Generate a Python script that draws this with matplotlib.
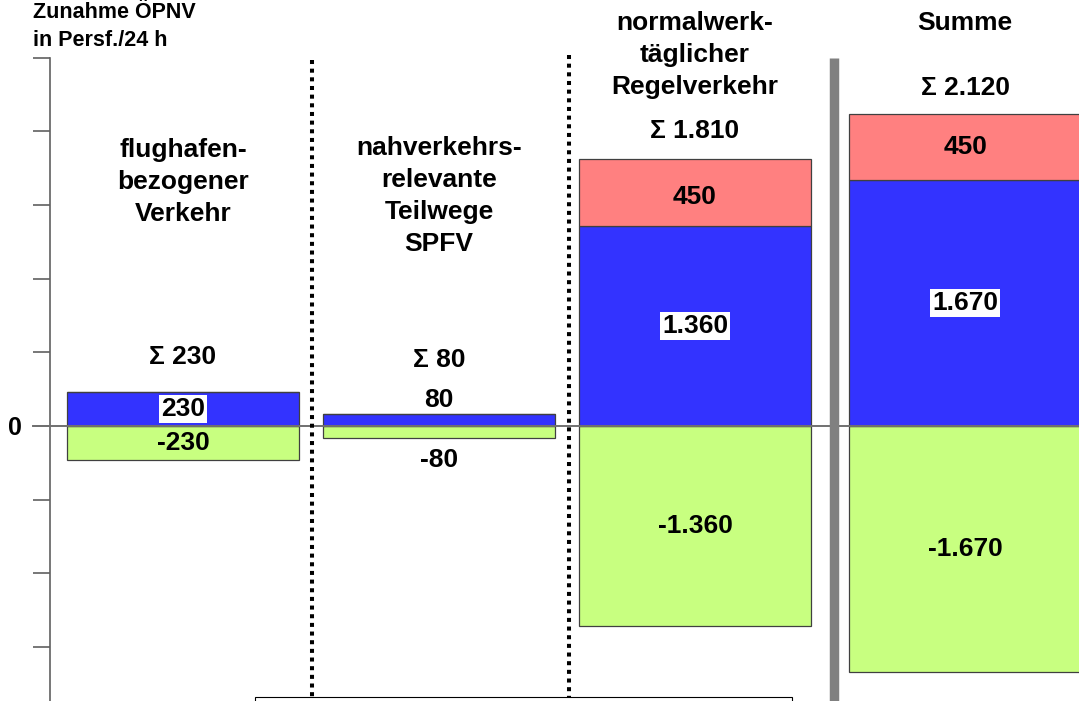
import matplotlib
matplotlib.use("Agg")
import matplotlib.pyplot as plt
import numpy as np
from matplotlib.patches import Rectangle

plt.rcParams['font.family'] = ['Liberation Sans', 'DejaVu Sans']
plt.rcParams['font.weight'] = 'bold'

# ---- data ----
groups = ["flughafen-\nbezogener\nVerkehr",
          "nahverkehrs-\nrelevante\nTeilwege\nSPFV",
          "normalwerk-\ntäglicher\nRegelverkehr",
          "Summe"]
blue_vals = [230, 80, 1360, 1670]
red_vals = [0, 0, 450, 450]
green_vals = [-230, -80, -1360, -1670]
blue_labels = ["230", "80", "1.360", "1.670"]
red_labels = ["", "", "450", "450"]
green_labels = ["-230", "-80", "-1.360", "-1.670"]
sum_labels = ["Σ 230", "Σ 80", "Σ 1.810", "Σ 2.120"]
yticks = [-1500, -1000, -500, 0, 500, 1000, 1500, 2000, 2500]
ylabel_lines = ["Zunahme ÖPNV", "in Persf./24 h"]

# ---- layout ----
W, H = 1079, 701
fig = plt.figure(figsize=(W / 100, H / 100), dpi=100)
ax_left, ax_top = 50, 57.5
ax = fig.add_axes([ax_left / W, 0, 1 - ax_left / W, 1 - ax_top / H])

zero_px = 426
px_per_unit = (647 - 57.5) / 4000.0
ymin = -(H - zero_px) / px_per_unit
ymax = 2500
ax.set_ylim(ymin, ymax)

step = 256.0
c0 = 183.0
x = np.array([0, 1, 2, 3.055])
width = 0.906
ax.set_xlim((ax_left - c0) / step, (W - c0) / step)

def py(v):
    """pixel row -> data value"""
    return (zero_px - v) / px_per_unit

blue = '#3333FF'
red = '#FF8080'
green = '#C8FF80'
edge = '#404040'

ax.bar(x, green_vals, width, color=green, edgecolor=edge, linewidth=0.9, zorder=2)
ax.bar(x, blue_vals, width, color=blue, edgecolor=edge, linewidth=0.9, zorder=2)
ax.bar(x, red_vals, width, bottom=blue_vals, color=red, edgecolor=edge, linewidth=0.9, zorder=2)

# zero line
ax.axhline(0, xmin=-17 / (W - ax_left), xmax=1, color='#707070', lw=1.4, zorder=3, clip_on=False)

# spines / ticks
for s in ['top', 'right', 'bottom']:
    ax.spines[s].set_visible(False)
ax.spines['left'].set_color('#606060')
ax.spines['left'].set_linewidth(1.2)
ax.set_xticks([])
ax.set_yticks(yticks)
ax.set_yticklabels(["0" if t == 0 else "" for t in yticks])
ax.tick_params(axis='y', direction='out', length=12.2, width=1.2, color='#606060',
               pad=8, labelsize=18)

fs = 19
# value labels
wb = dict(boxstyle='square,pad=0.08', fc='white', ec='none')
for i in range(4):
    if i == 1:
        ax.text(x[i], py(400), blue_labels[i], ha='center', va='center',
                fontsize=fs, zorder=5)
        ax.text(x[i], py(460), green_labels[i], ha='center', va='center', fontsize=fs, zorder=5)
    else:
        ax.text(x[i], blue_vals[i] / 2, blue_labels[i], ha='center', va='center',
                fontsize=fs, zorder=5, bbox=wb)
        ax.text(x[i], green_vals[i] / 2, green_labels[i], ha='center', va='center',
                fontsize=fs, zorder=5)
    if red_vals[i]:
        ax.text(x[i], blue_vals[i] + red_vals[i] / 2 - 30 * (i == 2), red_labels[i],
                ha='center', va='center', fontsize=fs, zorder=5)

sum_y = [357, 360, 131, 88]
for i in range(4):
    ax.text(x[i], py(sum_y[i]), sum_labels[i], ha='center', va='center', fontsize=fs, zorder=5)

title_y = [182, 196, 55, 23]
for i in range(4):
    ax.text(x[i], py(title_y[i]), groups[i], ha='center', va='center', fontsize=fs,
            linespacing=1.42, zorder=5, clip_on=False)

# y label (two lines, baselines placed separately)
for line, base in zip(ylabel_lines, [18.5, 45.5]):
    fig.text(33 / W, 1 - base / H, line, ha='left', va='baseline', fontsize=15.5)

# dividers
for xp, ytop in [(312, 60), (568.5, 55)]:
    ax.plot([(xp - c0) / step] * 2, [py(ytop), ymin], color='black', lw=2.9,
            dashes=(1, 1.15), dash_capstyle='butt', zorder=4, clip_on=False)
ax.plot([(833.5 - c0) / step] * 2, [py(58), ymin], color='#808080', lw=6.8,
        solid_capstyle='butt', zorder=4, clip_on=False)

# partial box at bottom
fig.patches.append(Rectangle((255 / W, -0.01), (792 - 255) / W, (H - 697) / H + 0.01,
                             transform=fig.transFigure, fc='white', ec='black', lw=0.8))

fig.savefig("out.png", dpi=100)
